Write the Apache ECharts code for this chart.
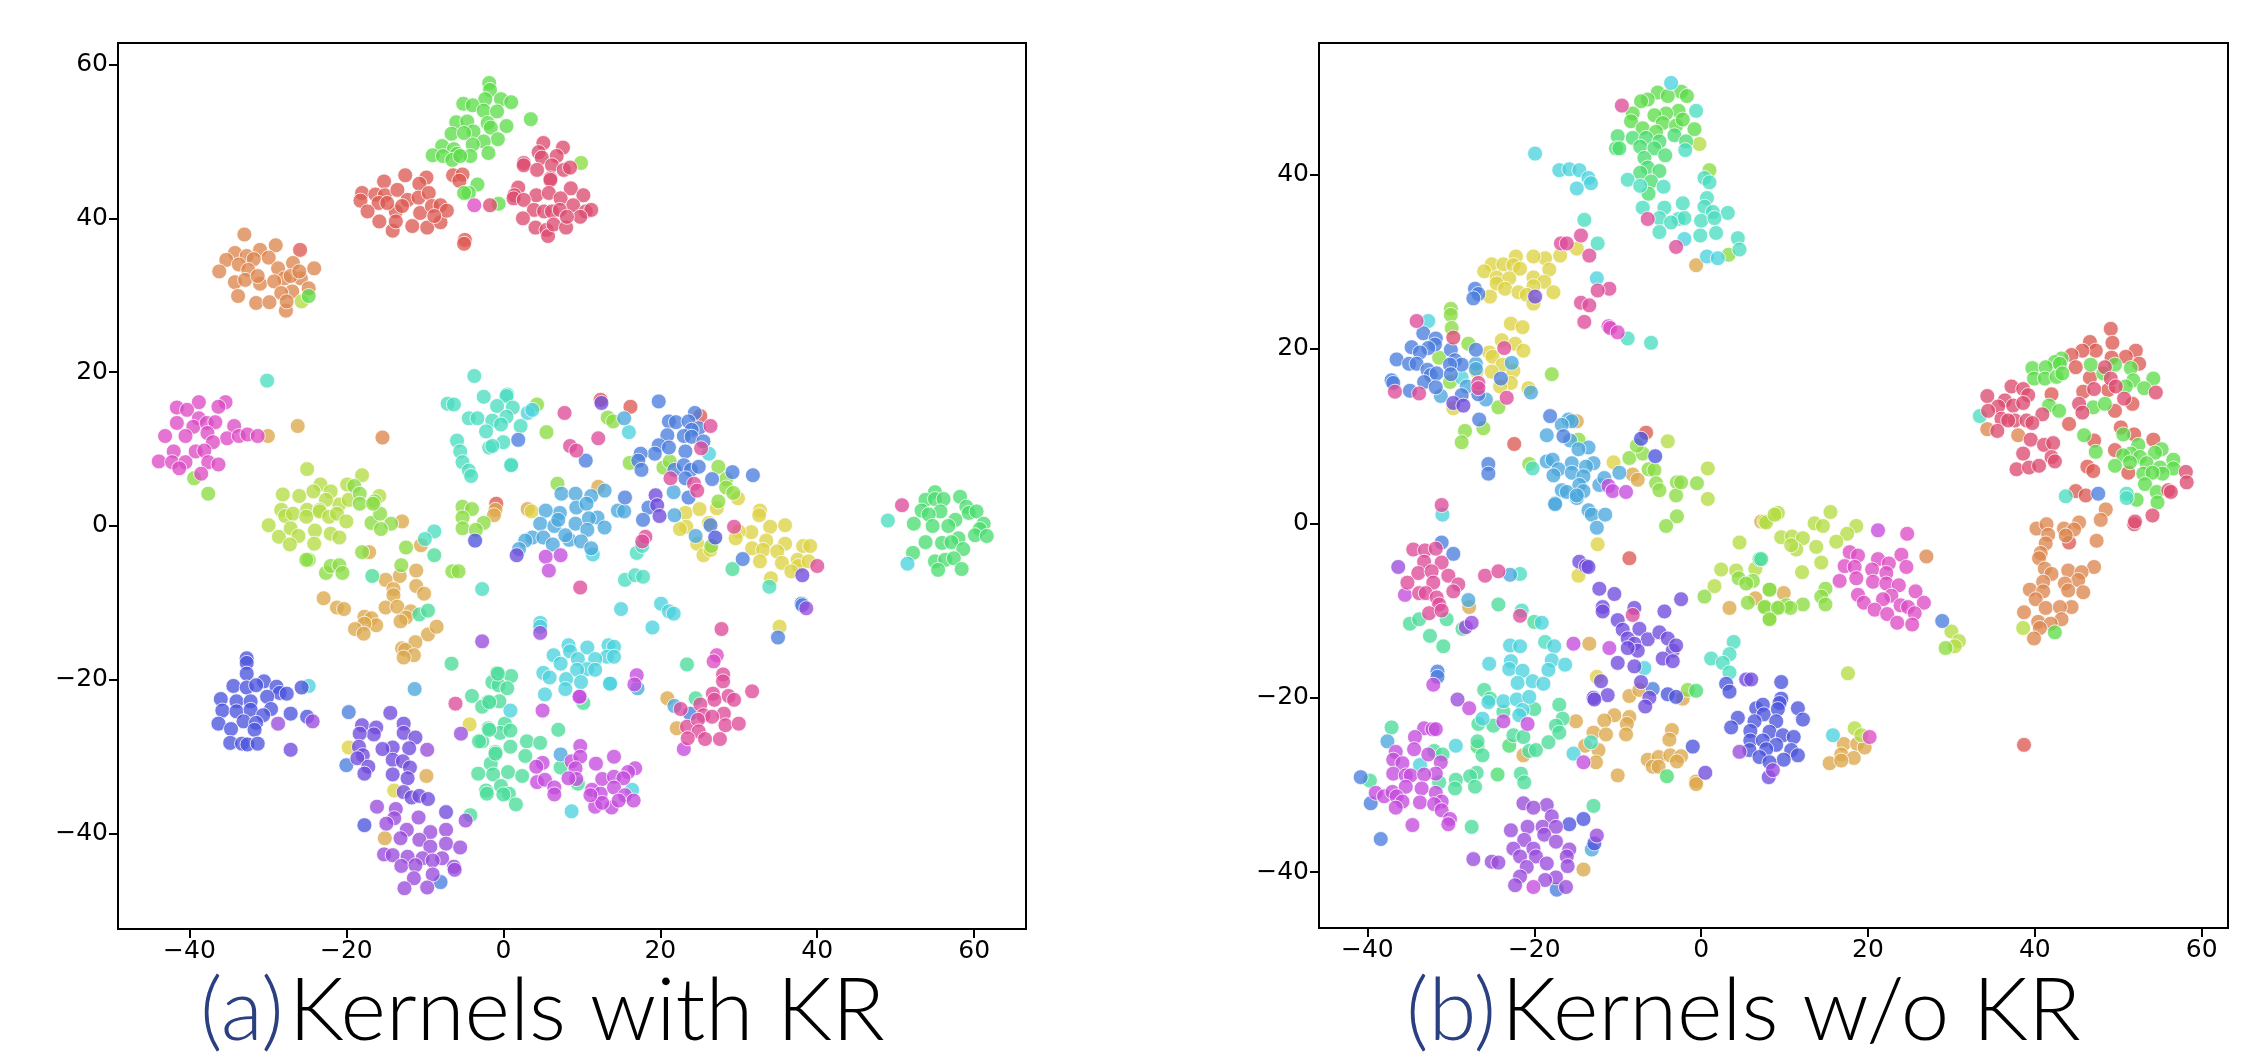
<!DOCTYPE html>
<html><head><meta charset="utf-8">
<style>html,body{margin:0;padding:0;background:#fff}#c{width:2244px;height:1064px}</style>
<script src="https://cdn.jsdelivr.net/npm/echarts@6/dist/echarts.min.js"></script>
</head><body><div id="c"></div>
<script>
const xTicks=[-40,-20,0,20,40,60];
const yTicksA=[-40,-20,0,20,40,60];
const yTicksB=[-40,-20,0,20,40];
const titleA=['(a)','Kernels with KR'];
const titleB=['(b)','Kernels w/o KR'];
const colors={red:'#dd5a52',orange:'#dd8650',gold:'#dca84c',yellow:'#dcd244',lime:'#b4dc44',lgreen:'#8adc44',green:'#5edc4c',green2:'#4cdc70',mint:'#4cdc9a',teal:'#4cdcc0',cyan:'#4cd2dc',sky:'#4ca8dc',blue:'#4c7edc',indigo:'#4c54dc',violet:'#704cdc',purple:'#9a4cdc',mauve:'#c44cdc',magenta:'#dc4cc4',hot:'#dc4c9a',rose:'#dc4c70'};

// ---------- panel (a) ----------
const aRed=[[-15.2,44.8],[-12.5,45.6],[-9.8,45.3],[-10.7,44.5],[-18,43.3],[-16.3,43.1],[-15.1,43],[-13.5,43.7],[-12.2,42.4],[-10.8,42.7],[-9.5,43.3],[-18.2,42.3],[-15.9,42],[-13.7,40.9],[-17.3,40.9],[-15.8,39.6],[-14.1,38.4],[-13.7,39.6],[-11.6,39],[-9.7,38.8],[-8,39.5],[-10.6,40.7],[-9.1,41.6],[-8,41.7],[-7.2,41],[-8.8,40.3],[-6.4,45.6],[-5.2,45.7],[-5.6,44.9],[-4.9,37.2],[-5,36.7],[-12.9,41.6],[-14.8,42],[-25.9,35.9],[16.2,15.5],[12.4,16.4],[25.1,14.3],[-0.9,2.9]];
const aOrange=[[-33,37.9],[-29,36.5],[-34.2,35.5],[-31,35.9],[-35.3,34.6],[-32.7,35.1],[-29.9,34.9],[-31.8,34.7],[-26.8,34.2],[-24.1,33.5],[-36.2,33.1],[-33.7,34],[-32.5,33.3],[-28.7,33.5],[-25.8,32.2],[-27.9,32.2],[-27.1,32.5],[-34.2,31.7],[-32.9,32],[-31,31.5],[-29.2,31.8],[-24.8,30.9],[-26.9,30.5],[-28.3,30.3],[-33.8,29.9],[-31.5,29],[-29.8,29.1],[-27.7,28],[-27.6,29.2],[-15.4,11.5],[-31.3,32.5],[-26,33.1]];
const aGold=[[-26.2,13],[-30,11.7],[-12.9,0.6],[-17.1,-3.4],[-10.5,-2.5],[-11.1,-5.8],[-13.2,-6.5],[-15,-7],[-14,-8.2],[-11.1,-7.8],[-10.1,-8.8],[-14,-9],[-22.9,-9.4],[-21.2,-10.6],[-20.3,-10.8],[-15,-10.6],[-13.5,-10.5],[-11.8,-11.1],[-12.4,-11.9],[-13.1,-12.4],[-17.7,-11.8],[-16.8,-12],[-16.2,-12.9],[-17.7,-12.7],[-18.9,-13.4],[-17.8,-14],[-9.6,-14.1],[-8.5,-13.1],[-11.2,-15.1],[-12.9,-15.9],[-12.5,-16.1],[-11.4,-16.8],[-12.7,-17.1],[-1,2.1],[-1.2,1.4],[3.1,2.2],[12.1,5.1],[20.9,-22.4],[22.1,-26.3],[-9.8,-32.5],[-15.1,-40.6]];
const aYellow=[[3.6,1.9],[29.9,3.6],[27.2,2.3],[32.7,2],[32.6,1.4],[23.2,1.7],[25,2.2],[23.3,-0.1],[22.5,-0.4],[26.2,0.4],[34,-0.1],[35.9,0.1],[31.6,-0.8],[30,-0.7],[29.6,-1.6],[33.5,-1.9],[35.9,-2.3],[31.7,-2.9],[33.1,-3.1],[34.9,-3.3],[38.2,-2.6],[39.1,-2.6],[24.7,-2.3],[25.5,-3.8],[26.4,-3.1],[32.7,-4.6],[35.5,-4.8],[37.5,-4.4],[37.6,-5.2],[38.9,-4.6],[36.7,-5.9],[34.1,-6.8],[35.2,-13.1],[-4.3,-25.8],[-19.7,-28.8],[-13.9,-34.4]];
const aLime=[[-25.7,29.2],[-25,7.4],[-18,6.6],[-23.3,5.4],[-19.9,5.4],[-28.1,4.1],[-26,3.9],[-24.2,4.5],[-22,4.5],[-15.8,3.9],[-20.9,2.8],[-19.7,3.4],[-22.6,3.4],[-25,2.1],[-23.4,2.1],[-28.3,2.1],[-29.9,0.1],[-27.8,1.3],[-26.8,1.6],[-25.1,1.2],[-23.4,1.9],[-22.2,1.2],[-21.2,1.6],[-20,0.6],[-28.6,-1.4],[-27.1,-0.3],[-26.1,-1.3],[-27.2,-2.4],[-24,-0.6],[-22,-1],[-24.1,-2.3],[-20.9,-1.5]];
const aLgreen=[[9.9,47.2],[-39.4,6.2],[-37.6,4.2],[-19,5.2],[-18.3,4.2],[-16.4,3.2],[-16.8,0.4],[-15.7,1.6],[-14.3,0.3],[-15.6,-0.4],[-18.3,2.9],[-16.6,2.9],[-24.8,-4.4],[-25.1,-4.4],[-22.6,-6.1],[-22,-5.2],[-20.9,-5.1],[-20.5,-6.1],[-18,-3.4],[-12.4,-2.8],[-13,-5.1],[-6.5,-5.9],[-5.7,-5.9],[-5.2,2.5],[-4,2.2],[-2.5,0.4],[-5.2,1.1],[-5.2,-0.3],[-3.5,-0.5],[4.3,15.8],[5.5,12.2],[13.3,14.1],[14,13.6],[16.1,8.2],[20.4,7.6],[21.2,8.4],[27.4,7.7],[28.4,6.1],[28.4,5],[29.3,4.3],[27.4,3.2],[26.5,-2.6],[6.9,5.5]];
const aGreen=[[-1.8,57.6],[-1.7,56.7],[-5.1,54.9],[-2.3,55.5],[-0.3,55.5],[1,55.1],[-3.9,54.7],[-2.5,54],[-0.8,53.9],[3.5,52.9],[-6,52.5],[-4.6,52.6],[-2,52.4],[-3.8,51.3],[0.4,52],[-1.6,51.8],[-6.6,51],[-5,51.1],[-0.7,50.3],[-2.5,50],[-7.8,49.4],[-6.3,49],[-3.9,49.6],[-5.9,48.4],[-9,48.2],[-7.7,48.1],[-4.2,48.1],[-1.9,48.5],[-6.5,47.6],[-5.5,48.1],[-3.3,44.4],[-4.4,43.3],[-5,43.3],[-0.6,41.9],[-24.8,29.9]];
const aGreen2=[[55,4.4],[53.8,3.4],[55,3.5],[56.1,3.5],[58.2,3.8],[59,2.5],[53.3,2],[55.7,1.9],[59.3,1.7],[60.3,1.9],[54.2,1.5],[57.6,0.8],[61.2,0.3],[52.3,0.3],[54.7,0],[56.7,0],[60.7,-0.4],[60.1,-1.2],[61.6,-1.3],[58,-1.6],[53.8,-2.1],[55.9,-2.2],[57.1,-2.1],[58.6,-3],[52.2,-3.5],[55,-4.6],[56.3,-4.4],[57.4,-4.2],[55.4,-5.7],[58.4,-5.6]];
const aMint=[[-16.7,-6.5],[-8.8,-3.8],[-10.7,-11.5],[-9.6,-11],[23.4,-18],[24.5,-22.4],[29.2,-5.6],[10.2,-23],[-0.8,-19.1],[1,-19.5],[-1.4,-20.3],[-0.6,-20.7],[0.5,-21.1],[-2,-22.9],[-0.5,-22.8],[0.2,-25.7],[-1.9,-26.3],[-0.4,-26.9],[0.9,-26.6],[-2.7,-28],[7,-26.5],[3,-28],[4.7,-28.2],[0.9,-28.7],[2.8,-29.9],[-1,-29.4],[-1.6,-30.9],[-1.3,-32.3],[0.6,-32],[2.4,-32.5],[-0.3,-33.8],[-2.2,-34.4],[0.7,-34.8],[1.6,-36.2],[0,-34.9],[7.3,-31.4],[9.5,-33.5],[-6.6,-17.9],[-4,-22.1],[-3.1,-28],[-1,-29.6],[-3.2,-32.2],[-2.1,-34.8],[-1.8,-26.5],[-4.2,-37.6],[-0.7,-19.2],[-2.7,-23.5],[-1.8,-22.9]];
const aTeal=[[-30.1,18.9],[-3.7,19.5],[-7.1,15.9],[-6.3,15.8],[-2.5,16.8],[0.5,17.1],[0.4,16.9],[-0.8,15.6],[1.2,15.4],[-4.4,14],[-3.3,14],[-1.4,13.7],[0.4,14.2],[2.2,13],[-0.3,13.2],[-2.2,12.3],[0,10.9],[-1.8,10.2],[-1.4,10.4],[-5.9,11.1],[-5.5,9.7],[-5.2,8.3],[-4.4,7.2],[-4.1,6.5],[1,8],[49,0.7],[17,-3.5],[17.7,-2.6],[15.5,-7],[16.8,-6.4],[17.8,-6.6],[33.9,-7.9],[-8.8,-0.7],[-10,-1.7],[-2.7,-8.2],[1,7.9]];
const aCyan=[[3.1,14.7],[3.7,15.1],[26.2,9.4],[16,12.2],[11.4,-3.7],[15,-10.8],[20.1,-10.1],[21.1,-11.1],[21.7,-11.4],[19,-13.2],[13.6,-20.5],[51.5,-4.9],[8.3,-15.5],[10.7,-15.8],[6.4,-16.8],[8.5,-16.3],[13.4,-15.5],[14.1,-15.7],[13.2,-17],[11.7,-17.3],[9.5,-17.3],[7.3,-17.9],[14.1,-17],[10.7,-18.6],[11.7,-18.7],[9.4,-18.7],[5.1,-19.1],[5.9,-19.7],[8,-19.9],[9.9,-20.3],[7.9,-21.2],[13.6,-20.5],[5.3,-21.9],[0.9,-24],[16.4,-34.3],[8.7,-37.1],[4.7,-12.6],[4.7,-13.1],[-24.8,-20.8]];
const aSky=[[15.4,14],[14.6,2],[15.4,1.9],[21.7,4.4],[21.8,1.4],[24.5,-1.3],[17.1,-21.1],[21.8,-23.4],[-11.3,-21.2],[7.4,4.2],[9.2,4.2],[11.2,3.9],[12.9,4.6],[7.2,1.7],[5.4,2],[9.3,2.4],[10.6,2.9],[12,1.1],[12.9,-0.2],[4.7,0.3],[6.5,0],[9.2,0.3],[10.9,1],[10.7,-0.5],[3.7,-1.5],[5.1,-1.5],[2.8,-1.9],[2,-3],[6.3,-2.4],[8.4,-1.8],[9.9,-2],[11.2,-2.9],[7.9,-1.2],[7,0.8],[7.3,-29.7]];
const aBlue=[[1.9,11.2],[10.5,8.5],[19.8,16.2],[24.4,14.7],[21.1,13.6],[22,13.5],[23.6,13.6],[24.9,12.7],[24,12.5],[20.9,11.8],[23,11.7],[24,11.6],[25.5,11],[19.8,10.5],[21.1,10.2],[19.3,9.4],[23.2,9.7],[17.5,9.4],[17.2,8.5],[17.6,7.3],[21.8,7.3],[23,7.9],[23.9,7.3],[24.9,7.7],[23.2,6.2],[26.6,6.1],[29.2,7],[31.8,6.6],[23.6,3.7],[15.5,3.7],[18.5,2.4],[17.8,0.8],[26.4,0.1],[30.5,-4.3],[38,-10.1],[38.1,-10.3],[35,-14.5],[23.8,-24.4],[-19.7,-24.2],[-8,-46.3],[-20,-31.1]];
const aIndigo=[[27,-1.5],[-3.6,-1.9],[-32.7,-17.2],[-32.7,-17.8],[-32.7,-19.2],[-34.4,-20.8],[-30.5,-20.2],[-32.7,-21],[-31.5,-20.7],[-28.9,-20.9],[-28.5,-21.7],[-27.6,-21.8],[-36,-22.5],[-34,-22.8],[-32.2,-22.8],[-30.1,-22.2],[-35.8,-24],[-34,-24.1],[-32.2,-23.9],[-29.6,-23.8],[-30.6,-24.6],[-27.1,-24.4],[-36.3,-25.7],[-33.1,-25.4],[-31.5,-25.6],[-34.7,-26.4],[-31.7,-26.5],[-34.8,-28.2],[-33.3,-28.3],[-32.6,-28.4],[-31.3,-28.3],[-25.7,-21],[-25,-24.8],[-17.7,-38.9]];
const aViolet=[[12.5,16],[19.4,4],[19.6,2.7],[19.9,1.3],[38.1,-6.4],[1.7,-3.8],[-27.1,-29.1],[-14.4,-24.3],[-12.7,-25.7],[-18,-25.9],[-16.2,-26.2],[-16.5,-27.1],[-18.3,-27],[-12.7,-26.9],[-11.2,-27.5],[-18.4,-28.7],[-14.1,-28.8],[-15.4,-29],[-12,-28.9],[-17.9,-29.8],[-18.6,-30.2],[-14.1,-30.4],[-12.8,-30.6],[-17.2,-31.3],[-17.7,-32.2],[-14.1,-32.3],[-11.9,-31.4],[-12.2,-32.8],[-12.7,-34.6],[-11.7,-35.3],[-10.7,-35.1],[-9.6,-35.5],[-7.3,-37.2]];
const aPurple=[[38.6,-10.7],[-28.7,-25.7],[-24.3,-25.4],[-2.7,-15],[4.7,-13.9],[-5.4,-27],[-9.7,-29.1],[-16.1,-36.5],[-13.7,-36.8],[-13.9,-38],[-14.9,-38.7],[-10.8,-37.9],[-4.8,-38.3],[-7.3,-39.5],[-9.3,-39.8],[-12.3,-39.5],[-13.1,-40.6],[-10.7,-40.8],[-7.3,-41.3],[-9.3,-41.7],[-5.5,-41.8],[-15.2,-42.7],[-14.1,-42.8],[-7.8,-43.2],[-10.3,-43.2],[-9,-43.5],[-12.2,-43],[-13,-44.2],[-11.2,-44.1],[-6.3,-44.3],[-6.2,-44.7],[-9,-45.3],[-11.4,-45.8],[-12.6,-47.1],[-9.7,-47]];
const aMauve=[[23,-29],[5.4,-4],[7.3,-3.8],[5.8,-5.8],[17,-19.4],[16.7,-20.6],[9.8,-22.2],[9.7,-22.2],[5,-24],[9.8,-28.6],[8.7,-30.6],[5,-30.8],[11.8,-30.9],[14.1,-30],[9.8,-30],[16.8,-31.5],[4.2,-31.3],[9.2,-31.5],[15.9,-32],[12.6,-32.9],[14.1,-32.6],[4.3,-33.3],[5.3,-33],[9.3,-32.9],[8.3,-32.8],[15.3,-32.8],[6.5,-34],[6.5,-34.9],[11.3,-34.3],[12.4,-34.8],[14.1,-34],[15.5,-35],[16.6,-35.7],[11.7,-36.5],[13.8,-36.6],[12.6,-36],[14.7,-35.7],[11.1,-35]];
const aMagenta=[[-35.4,16.1],[-41.6,15.4],[-38.8,16.1],[-36.3,15.5],[-40.3,15.1],[-38.8,14],[-41.6,13.4],[-39.5,12.9],[-37.8,13.4],[-36.7,13.5],[-34.3,13],[-43.1,11.7],[-40.5,11.7],[-37.7,12.1],[-35.2,11.4],[-33.7,11.7],[-32.6,11.9],[-31.3,11.7],[-37,10.9],[-42,9.7],[-39.2,9.7],[-38.1,9.8],[-43.9,8.4],[-42.2,8.3],[-40.5,8.3],[-37.6,8.3],[-36.3,8],[-41.3,7.5],[-38.5,6.8],[-3.7,41.7],[27.2,-16.8],[26.8,-17.6]];
const aHot=[[26.4,13],[25.2,10.1],[21.3,6.2],[24.3,5.5],[24.7,4.6],[12.1,11.4],[8.5,10.4],[9.3,9.8],[7.8,14.7],[29.4,-0.1],[40,-5.2],[18.1,-1.4],[17.7,-2],[50.8,2.7],[9.8,-8],[27.8,-13.4],[28,-19.3],[28,-20.2],[31.7,-21.5],[26.7,-21.8],[28.7,-22.1],[29.4,-22.6],[26.9,-22.6],[25.1,-23.2],[28.1,-24.4],[25.5,-24.6],[26.6,-24.8],[28.3,-25.9],[30,-25.7],[23.4,-26.1],[24.8,-25.2],[24.9,-26.7],[25.7,-27.7],[23.5,-27.6],[27.6,-27.7],[22.6,-23.8],[-6.1,-23.1]];
const aRose=[[5.1,49.8],[7.6,49.2],[4.5,48.6],[4.9,47.9],[6.8,48.1],[2.6,47.2],[2.6,46.9],[4.3,46.3],[6.2,46.9],[7.7,46.3],[8.5,46.6],[6,45.2],[6,45],[1.9,44],[1.4,43],[1.3,42.6],[4.2,43],[2.6,42.4],[5.8,43.3],[8.6,43.9],[10.2,43],[7.3,42.6],[8.9,41.7],[3.9,41.1],[5.2,40.9],[6.2,40.9],[7.2,41.1],[10.5,40.9],[11.2,41.1],[2.5,40],[9.8,40.2],[4.1,38.8],[5.5,38.5],[5.7,37.7],[6.4,39.2],[8,38.8],[8.1,40.2],[-1.7,41.7]];

// ---------- panel (b) ----------
const bRed=[[49.1,22.3],[49.3,20.7],[46.6,20.8],[47.3,19.8],[45.7,19.8],[44.4,19.3],[52.1,19.8],[50.9,19.1],[49.2,19],[52.5,18.3],[44.9,17.9],[46.6,16.7],[48.8,15.3],[45.8,15.1],[42,14.8],[51.7,13.7],[49.6,12.9],[44.1,11.4],[50.3,11],[51.9,10.2],[47.1,9.5],[54.2,9.6],[49.6,8.4],[46.3,6.5],[47,6],[51.2,5.8],[44.9,3.7],[46.1,3.2],[44.1,-2.2],[38.7,-25.4],[-8.6,-4],[-6.6,10.4],[-22.4,9.1]];
const bOrange=[[34.3,10.8],[38,10.1],[48.5,1.6],[47.9,0.4],[45.3,0.1],[40.2,-0.6],[41.4,-0.1],[43.5,-0.6],[44.7,-0.7],[41.6,-1.3],[43.7,-1.4],[47.4,-2],[41.3,-2.3],[40.7,-3.4],[40.5,-4],[47.1,-5],[41.2,-5.2],[42,-5.8],[44,-5.4],[45.6,-5.6],[45.2,-6.5],[41,-6.7],[43.6,-6.9],[44,-7.7],[45.8,-7.9],[39.4,-7.6],[41,-7.8],[40.1,-8.7],[44.4,-9.6],[41.3,-9.7],[43,-9.6],[38.7,-10.2],[40.4,-11.3],[43.2,-11],[41.9,-11.5],[40.6,-12],[39.9,-13.2],[27,-3.8]];
const bGold=[[-0.6,29.6],[-14.9,11.7],[-8.2,5.6],[-7.6,5],[-27.8,-9.6],[-13.4,-13.8],[-8.6,-19.8],[-7.4,-19.1],[-2.2,-20.1],[-15,-22.7],[-10.4,-22],[-11.6,-22.6],[-8.6,-22.2],[-8.9,-23],[-12.9,-24],[-11.4,-24.2],[-9,-24.2],[-13.9,-25.5],[-12.3,-26],[-12.6,-27.4],[-10,-28.9],[-3.5,-23.7],[-3.8,-24.8],[-6.4,-27.1],[-5.1,-26.8],[-3.7,-26.6],[-2.4,-26.7],[-2.9,-27.3],[-5.8,-27.9],[-5.1,-27.9],[-0.6,-29.6],[-0.6,-29.9],[-21.3,-26.6],[-14.1,-39.7],[17.1,-25.3],[18.7,-25.3],[19.6,-25.7],[16.8,-26.5],[18.3,-26.9],[15.4,-27.5],[16.8,-27.2],[7.2,0.2],[3.4,-9.7],[9.9,-8],[6.5,-8.6]];
const bYellow=[[-14.9,31.5],[-16.9,30.7],[-18.7,30.4],[-20.1,30.6],[-22.2,30.6],[-25.1,29.7],[-23.7,29.7],[-22.5,29.6],[-26,28.9],[-21.7,29.2],[-18.2,29.1],[-24.5,28.2],[-23,28.1],[-20.1,28.2],[-18.8,27.7],[-24.5,27.5],[-20.1,27.2],[-23.5,26.9],[-21.9,26.5],[-17.7,26.5],[-20.9,26.2],[-25.3,26],[-20.1,25.2],[-22.8,22.9],[-21.4,22.5],[-23.9,21],[-22.3,20.6],[-21.3,19.8],[-25.4,19.6],[-25,19.1],[-23.8,18.2],[-25.1,17.4],[-22.5,17.5],[-22.8,16.1],[-24.1,15.7],[-26.9,17.4],[-20.7,15.5],[-29.7,13.2],[-10.5,7],[-12.4,-2.4],[-14.7,-6],[-12.5,-17.6]];
const bLime=[[-0.2,43.5],[-4,9.4],[0.8,6.3],[0.8,2.8],[9,1],[9.2,1.2],[7.6,0.2],[7.8,0.1],[8.8,1],[15.5,1.3],[13.6,0],[14.6,-0.3],[18.6,-0.3],[17.5,-1.2],[16.2,-2.1],[9.6,-1.6],[10.9,-1.5],[12.2,-1.7],[11.4,-3],[13.8,-2.7],[10.8,-2.5],[14.4,-4.5],[12.1,-5.6],[2.4,-5.3],[1.6,-7.2],[4.6,-2.2],[4.2,-5.4],[6.5,-5.2],[38.6,-12],[17.6,-17.2],[18.4,-23.5],[19.2,-24.3],[30,-12.4],[30.9,-13.5],[30.4,-14.1]];
const bLgreen=[[1,40.5],[3.3,30.8],[-30,24.6],[-30,23.9],[-29.9,22.4],[-27.9,20.6],[-31.4,19],[-30.1,16.2],[-24.3,13.3],[-28.3,10.6],[-26.1,10.9],[-28.7,9.3],[-17.9,17.1],[-20.6,6.8],[-14.7,9.6],[-8.6,7.5],[-7,8],[-7.7,8.9],[-6.3,6.2],[-5.6,6.1],[-5.4,4.6],[-5,3.8],[-2.9,4.7],[-3,3.2],[-2.4,4.7],[-0.5,4.6],[-2.9,0.8],[-4.2,-0.3],[0.4,-8.4],[4.5,-6.3],[6.2,-6.6],[5.4,-6.9],[8.2,-7.6],[5.6,-9.1],[7.7,-9.6],[8.2,-10.9],[9.4,-9.6],[14.9,-7.5],[8.2,-7.6],[14.4,-8.4],[14.9,-9.3],[12.2,-9.3],[10.2,-9.4],[10.7,-9.7],[7.6,-9.6],[9.2,-9.7],[8.2,-11],[-1.6,-19.1],[29.3,-14.3]];
const bGreen=[[-5.2,49.4],[-2.4,49.5],[-4,49],[-1.7,49],[-6.4,48.6],[-7.2,48.4],[-2.7,47.3],[-4.2,47],[-5.6,46.8],[-8.2,47],[-8.4,46.1],[-4.6,45.9],[-3,45.6],[-7,45.3],[-0.8,45.2],[-5.4,44.9],[-2.2,46.3],[39.7,17.8],[43.2,18.9],[42.4,18.5],[41.3,17.9],[43,18.3],[39.9,16.6],[41.2,16.6],[42.6,16.8],[43.3,17.2],[46.7,18.2],[49.6,18.2],[48.2,17.2],[51.5,17.8],[51.8,16.4],[54.2,16.6],[53.1,15.5],[50.9,15.7],[41.7,13.5],[42.9,12.9],[47,13.3],[48.4,13.7],[45.9,10.1],[50.6,10.2],[47.3,8.2],[52.4,9],[55.2,8.5],[54.4,8.1],[51.5,8],[56.6,7.3],[50.6,7.8],[52.6,7.6],[51.4,7],[49.6,6.6],[53.4,6.9],[55,6.4],[56.6,6.3],[53,5.7],[55.3,5.7],[54.1,5.8],[53.2,4.5],[54.6,3.6],[52.2,2.7],[54.7,2.4],[42.4,-12.5]];
const bGreen2=[[-10,44.4],[-8.2,44.2],[-6.6,44.2],[-3.2,44.5],[-5,43.8],[-7.3,43.2],[-10.2,43],[-9.8,43],[-1.8,43.8],[-5.6,43],[-4.3,42.2],[-6.8,41.9],[-6.4,40.8],[-5,40.4],[-7.3,40.2],[-6,39.2],[-6.3,37.8],[-0.6,-19.2],[-4.1,-29],[-24.4,-28.8],[-23,-25.5],[-26.8,-25.6]];
const bMint=[[-34.9,-11.5],[-33.8,-11],[-30.5,-11],[-32.5,-12.9],[-30.9,-14.1],[-28.6,-12.1],[-26,-19.1],[-25.3,-20.1],[-20,-21.3],[-23.7,-21.6],[-17,-20.8],[-16.6,-22.4],[-26.7,-23],[-24.9,-23.2],[-22.5,-24.3],[-21.3,-24.5],[-17.4,-23.2],[-17,-24],[-18.3,-25.1],[-26.8,-25],[-20.6,-26.1],[-19.8,-26],[-26.2,-26.6],[-26.9,-28.6],[-27.7,-29],[-29.4,-29.4],[-27.1,-30.2],[-29.5,-30.4],[-21.6,-28.7],[-21.2,-29.7],[-39.7,-29.5],[-37.1,-23.4],[-32,-26.1],[-31,-26.5],[-27.5,-34.8],[-12.9,-32.4],[-31.4,-29.7],[-24.3,-9.3],[-20,-11.3],[7,-4.1],[7.2,-4.1]];
const bTeal=[[-0.6,47.3],[-1.9,42.8],[-8.8,39.4],[-7.3,38.7],[-4.5,38.6],[-7,36.2],[-4.4,36.2],[-2.2,36.7],[0.4,39.6],[1,39.1],[0.7,37.3],[0.4,36.3],[1.4,35.7],[3.2,35.6],[-5,35],[-2.7,34.9],[-2,35],[-3.6,34.5],[0,34.7],[1.6,35],[-5,33.4],[-0.1,33],[1.8,33.3],[4.4,32.7],[4.6,31.4],[-14,34.8],[-12.4,32.1],[-8.8,21.2],[-6,20.7],[-20.2,6.3],[-21.7,-5.8],[-21.5,-10],[-18.7,-13.6],[-13.2,-25.1],[3.9,-13.6],[1.2,-15.5],[3.4,-15],[2.6,-16],[3.4,-17.1],[33.4,12.3],[43.7,3.1],[51,3.4],[51,2.9]];
const bCyan=[[-3.6,50.5],[-2,32.6],[0.7,30.6],[2,30.4],[-19.9,42.4],[-17,40.5],[-15.8,40.6],[-14.6,40.5],[-13.5,39.6],[-13.2,39],[-14.9,38.4],[-12.5,28.1],[-32.7,23.2],[-28.7,16.7],[-31,1],[-19.1,-11.4],[-22.9,-14],[-21.7,-14.1],[-25.4,-16.1],[-22.8,-15.8],[-23,-16.7],[-21.4,-16.9],[-17.6,-14.1],[-17.9,-15.7],[-18.3,-16.8],[-16.3,-16.2],[-22,-18.3],[-20.2,-18.1],[-18.9,-18.4],[-23.7,-20.4],[-22.1,-20.2],[-20.6,-19.9],[-25.5,-20.5],[-21.4,-21.4],[-26.2,-22.4],[-21.8,-22],[-29.4,-25.5],[-15.3,-26.4],[-33.7,-27.7],[-6.8,-16.6],[15.8,-24.3]];
const bSky=[[-27,18.3],[-27,17.7],[-22.7,18.4],[-28.1,15.7],[-31.2,14.6],[-25.8,14.2],[-20.4,15],[-15.9,11.9],[-15.5,11.7],[-16.7,11.3],[-18.5,10.1],[-15.7,9.5],[-13.5,8.7],[-14.7,8.5],[-18.5,7.1],[-17.8,7.3],[-12.9,6.9],[-15.5,6.9],[-13.8,6.5],[-17.1,6.2],[-15.5,5.8],[-17.7,5.5],[-14.1,5.4],[-14.6,4.4],[-16.7,3.8],[-16.1,3.6],[-14.9,2.9],[-17.5,2.3],[-12.2,4.4],[-11.6,5.2],[-9.8,5.8],[-14.1,3.7],[-13.5,1.5],[-13.1,1],[-11.5,1],[-12.5,-0.5],[-14.9,3.2],[-17.5,2.2],[-27.9,-8.8],[-22.9,-5.9],[-37.6,-25],[-13.1,-37.4]];
const bBlue=[[-27.1,26.9],[-26.7,26.3],[-27.3,25.8],[-33.3,21.8],[-31.8,21.2],[-31.9,20.5],[-34.7,20.2],[-32.7,20.1],[-33.7,19.6],[-36.5,18.8],[-35,18.3],[-34.1,18.3],[-32.8,17.6],[-32.4,17],[-33.2,16.2],[-31.7,17.2],[-37.1,16.4],[-36.9,16.1],[-34.9,15.2],[-31.8,15.6],[-30,19.9],[-27,19.9],[-29.5,18.7],[-28.7,18.2],[-30.1,18.2],[-30,17.1],[-24,16.6],[-28.7,14.7],[-26.7,14.8],[-26.6,11.9],[-18.1,12.3],[-16.5,10],[-25.5,6.8],[-25.5,5.7],[-31.1,-2.2],[-29.7,-3.5],[-31.6,-17],[-31.6,-17.6],[-40.8,-29.1],[-39.6,-32.1],[-38.4,-36.2],[-17.3,-42],[-5.8,-19],[47.6,3.4],[28.9,-11.2]];
const bIndigo=[[-5.5,7.7],[-7.2,9.7],[-4,-19.6],[-3,-19.9],[-1,-25.6],[3,-18.4],[3.4,-19.3],[-15.8,-34.5],[-14.1,-33.9],[-12.8,-36.7],[9.6,-18.2],[9.6,-20.1],[9.4,-20.6],[6.6,-21.2],[7.4,-20.8],[7.5,-21.9],[9.2,-21.3],[11.6,-21.2],[12.2,-22.5],[4.4,-22.3],[6.4,-22.7],[9,-22.7],[3.6,-23.4],[5.9,-23.8],[8.2,-23.9],[9.8,-24.3],[11.1,-24.5],[5.9,-24.9],[7.4,-24.9],[9,-25.4],[7.8,-25.9],[5.8,-26],[10.8,-26],[11.6,-26.6],[9.9,-27.1],[7,-26.8],[8.2,-27.4]];
const bViolet=[[-19.9,26],[-29.7,13.8],[-28.5,13.5],[-14.6,-4.4],[-13.8,-4.9],[-13.5,-5],[-12.2,-7.5],[-10.4,-8.1],[-11.8,-9.6],[-11.8,-10.1],[-8,-9.7],[-4.4,-10.1],[-2.4,-8.7],[-10,-11.1],[-9.4,-12.2],[-7.4,-12.1],[-6.4,-13.3],[-8.8,-13.2],[-8,-13.8],[-5,-12.5],[-4,-13.2],[-7.6,-14.6],[-8.8,-14.3],[-3.4,-14.6],[-3,-14],[-4.6,-15.5],[-3.4,-15.8],[-10,-16],[-8,-16.4],[-12,-18.1],[-7.2,-18.2],[-11.2,-19.7],[-12.9,-20],[-12.8,-20.2],[-6.2,-20],[-6.7,-21],[0.5,-28.6],[5.4,-17.9],[6,-17.9],[8.1,-29.1]];
const bPurple=[[-36.3,-5],[-28.2,-11.9],[-27.5,-11.4],[-29.2,-20.2],[-21.3,-32.1],[-18.5,-32.3],[-20.1,-32.6],[-17.9,-33.6],[-22.8,-35.2],[-20.8,-34.8],[-19,-34.8],[-17.4,-34.8],[-18.8,-35.7],[-21.2,-36.3],[-17.4,-36.5],[-22.5,-37.3],[-20.1,-37.3],[-15.8,-37.4],[-12.5,-35.8],[-27.3,-38.5],[-25.1,-38.8],[-24.3,-38.9],[-21.7,-38.2],[-19.8,-38.2],[-18.5,-39],[-16.1,-38.2],[-16,-39.3],[-20.9,-39.4],[-17.4,-40.6],[-21.7,-40.5],[-22.3,-41.5],[-16.2,-41.7],[-18.7,-40.9],[4.6,-26.2],[8.6,-28.3]];
const bMauve=[[-11.1,4.3],[-10.6,3.7],[-9,3.6],[-35.5,-8.2],[-15.3,-13.8],[-11,-14.3],[-32.1,-18.5],[-27.8,-21.2],[-23.7,-22.7],[-20.8,-23],[-14.1,-27.4],[-33.2,-23.5],[-32.2,-23.6],[-31.8,-23.6],[-34.3,-24.5],[-34.4,-25.9],[-32.7,-26.5],[-36.6,-26.2],[-36.9,-27.1],[-35.8,-27.5],[-31.2,-27.4],[-36.9,-28.7],[-35.4,-28.9],[-34.8,-28.9],[-31.8,-28.7],[-33.2,-28.8],[-39,-30.9],[-38,-31.3],[-37,-30.8],[-35.4,-30.2],[-33.5,-30.4],[-31.8,-30.9],[-36.5,-31.3],[-35.8,-31.9],[-33.7,-32],[-31.1,-31.9],[-36.6,-32.6],[-32,-32.2],[-31.1,-32.9],[-30.1,-33.9],[-30.3,-34.5],[-34.6,-34.6],[-20.1,-41.7],[21.2,-0.8]];
const bMagenta=[[-11.1,22.6],[-10.9,22.4],[-10,21.9],[24.7,-1.2],[17.8,-3.3],[18.8,-3.7],[21.2,-4.1],[22.5,-4.6],[24,-3.6],[24.6,-5],[17.2,-4.9],[18.4,-5],[20.5,-5.3],[22.2,-5.7],[18.6,-6.3],[16.6,-6.6],[20.6,-6.7],[22.2,-6.9],[23.7,-7.1],[25.7,-7.8],[18.8,-8.2],[22.8,-8.3],[19.5,-9.1],[21.8,-8.7],[23.9,-9.4],[26.7,-9.1],[20.8,-9.9],[24.8,-9.6],[22.3,-10.4],[25.6,-10.3],[23.5,-11.4],[25.3,-11.6],[20.2,-24.5]];
const bHot=[[-9.5,47.9],[-6.4,34.9],[-3,31.7],[-14.4,33],[-16.8,32.1],[-16.1,32.1],[-13.4,30.7],[-11,26.9],[-12.4,26.7],[-14.4,25.3],[-13.4,25],[-14,23.1],[-34.1,23.2],[-36.7,15.1],[-33.8,14.9],[-26.7,16.1],[-26.7,15.5],[-23.3,14.4],[-23.6,20.1],[-31.1,2.1],[-34.5,-3],[-33.1,-3.1],[-31.8,-2.9],[-33.2,-4.4],[-31.1,-4.5],[-33.9,-5.7],[-32.3,-5.5],[-30.3,-6],[-35.2,-6.8],[-32.1,-6.8],[-29.1,-7],[-29.7,-7.8],[-33.8,-8],[-33,-8],[-31.7,-8.5],[-31.4,-9.3],[-32.6,-10.3],[-31.1,-10],[-25.9,-6],[-24.3,-5.5],[-21.7,-10.6],[-8.2,-10.5]];
const bRose=[[-29.7,21.3],[34.3,14.6],[37.2,15.7],[38.6,15.4],[39.2,14.7],[36.4,14.1],[35.6,13.4],[37.4,13.5],[38.6,13.8],[34.4,12.9],[40.9,12.5],[36,12],[37.6,11.8],[39,11.8],[39.7,11.5],[36.8,11.8],[35.5,10.6],[39.5,9.6],[41.1,9],[42.2,9.2],[38.6,8],[42,7.6],[42.4,7.1],[37.8,6.2],[39.3,6.4],[40.5,6.6],[48.4,17.9],[49.1,16.6],[49.7,15.7],[47.1,15.4],[50.7,14.3],[45.3,13.7],[45.7,12.7],[54.5,15],[58.1,5.9],[58.2,4.7],[56,3.8],[56.3,3.6],[54.1,0.9],[51.9,-0.1],[52,0.2]];

const panelA={red:aRed,orange:aOrange,gold:aGold,yellow:aYellow,lime:aLime,lgreen:aLgreen,green:aGreen,green2:aGreen2,mint:aMint,teal:aTeal,cyan:aCyan,sky:aSky,blue:aBlue,indigo:aIndigo,violet:aViolet,purple:aPurple,mauve:aMauve,magenta:aMagenta,hot:aHot,rose:aRose};
const panelB={red:bRed,orange:bOrange,gold:bGold,yellow:bYellow,lime:bLime,lgreen:bLgreen,green:bGreen,green2:bGreen2,mint:bMint,teal:bTeal,cyan:bCyan,sky:bSky,blue:bBlue,indigo:bIndigo,violet:bViolet,purple:bPurple,mauve:bMauve,magenta:bMagenta,hot:bHot,rose:bRose};

const axisFont={fontFamily:'"DejaVu Sans"',fontSize:25,color:'#000'};
const fmt=v=>String(v).replace('-','\u2212');
function axis(type,min,max,ticks){
  return {type:'value',min,max,scale:true,
    // custom tick list is expressed through customValues so that a non-multiple min works
    axisLine:{show:true,onZero:false,lineStyle:{color:'#000',width:2}},
    axisTick:{show:true,length:9,lineStyle:{color:'#000',width:2},customValues:ticks},
    axisLabel:{show:true,margin:type==='x'?10:10,...axisFont,formatter:fmt,customValues:ticks,showMinLabel:true,showMaxLabel:true,hideOverlap:false},
    splitLine:{show:false}};
}
function build(panel,idx){
  return Object.keys(panel).map(k=>({type:'scatter',xAxisIndex:idx,yAxisIndex:idx,data:panel[k],symbol:'circle',symbolSize:15,silent:true,
    itemStyle:{color:colors[k],opacity:0.78,borderColor:'#fff',borderWidth:1}}));
}
const titleRich={p:{fontFamily:'Lato',fontWeight:300,fontSize:87,color:'#2b4080'},t:{fontFamily:'Lato',fontWeight:300,fontSize:87,color:'#000'}};
const chart=echarts.init(document.getElementById('c'),null,{renderer:'canvas'});
chart.setOption({
  animation:false,backgroundColor:'#fff',
  title:[
    {text:`{p|${titleA[0]}} {t|${titleA[1]}}`,left:200,top:968,padding:0,textStyle:{rich:titleRich}},
    {text:`{p|${titleB[0]}} {t|${titleB[1]}}`,left:1406,top:968,padding:0,textStyle:{rich:titleRich}}
  ],
  grid:[
    {left:118,top:43,width:908,height:886,show:true,borderColor:'#000',borderWidth:2,backgroundColor:'#fff',containLabel:false},
    {left:1319,top:43,width:909,height:885,show:true,borderColor:'#000',borderWidth:2,backgroundColor:'#fff',containLabel:false}
  ],
  xAxis:[{...axis('x',-49.1,66.6,xTicks),gridIndex:0},{...axis('x',-45.8,63.15,xTicks),gridIndex:1}],
  yAxis:[{...axis('y',-52.4,62.8,yTicksA),gridIndex:0},{...axis('y',-46.4,55.08,yTicksB),gridIndex:1}],
  series:[...build(panelA,0),...build(panelB,1)]
});
</script></body></html>
